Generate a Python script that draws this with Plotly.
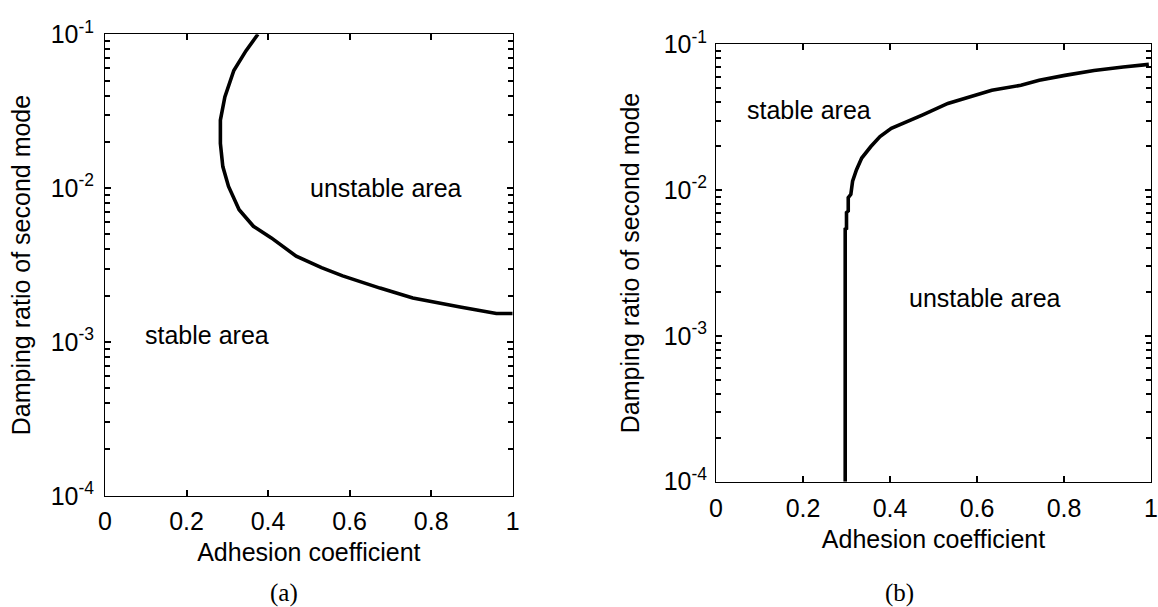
import plotly.graph_objects as go

# ---------------- data ----------------
# (a) stability boundary
a_adhesion = [0.375, 0.346, 0.316, 0.294, 0.283, 0.283, 0.289, 0.303, 0.329, 0.364,
              0.408, 0.469, 0.531, 0.583, 0.6745, 0.755, 0.871, 0.96, 1.0]
a_damping = [0.1, 0.0783, 0.0582, 0.0392, 0.0277, 0.0195, 0.0138, 0.01026, 0.00724, 0.00565,
             0.00475, 0.00361, 0.00304, 0.00269, 0.00224, 0.00193, 0.00169, 0.00153, 0.00153]

# (b) stability boundary
b_adhesion = [0.297, 0.297, 0.300, 0.300, 0.304, 0.304, 0.310, 0.314, 0.323, 0.335, 0.356,
              0.377, 0.403, 0.432, 0.474, 0.533, 0.583, 0.634, 0.701, 0.743, 0.802, 0.869,
              0.936, 0.995]
b_damping = [0.0001, 0.0054, 0.00546, 0.00702, 0.00719, 0.00887, 0.00935, 0.0115, 0.0138,
             0.0166, 0.0199, 0.0233, 0.0265, 0.0287, 0.0327, 0.0393, 0.0436, 0.0484, 0.0524,
             0.0566, 0.0612, 0.0662, 0.0698, 0.0728]

x_tickvals = [0, 0.2, 0.4, 0.6, 0.8, 1]
x_ticktext = ["0", "0.2", "0.4", "0.6", "0.8", "1"]
y_tickvals = [1e-4, 1e-3, 1e-2, 1e-1]
y_ticktext = ["10<sup>-4</sup>", "10<sup>-3</sup>", "10<sup>-2</sup>", "10<sup>-1</sup>"]
y_minor = [m * 10.0 ** e for e in (-4, -3, -2) for m in range(2, 10)]

x_title = "Adhesion coefficient"
y_title = "Damping ratio of second mode"

# ---------------- figure ----------------
W, H = 1158, 607
FONT = "Liberation Sans, Arial, sans-serif"
FS = 25

fig = go.Figure()
fig.add_trace(go.Scatter(x=a_adhesion, y=a_damping, mode="lines",
                         line=dict(color="black", width=3.6), xaxis="x", yaxis="y",
                         showlegend=False))
fig.add_trace(go.Scatter(x=b_adhesion, y=b_damping, mode="lines",
                         line=dict(color="black", width=3.6), xaxis="x2", yaxis="y2",
                         showlegend=False))

def px_x(p):
    return p / W

def px_y(p):
    return 1 - p / H

tfont = dict(family=FONT, size=FS, color="black")
common_x = dict(range=[0, 1], tickmode="array", tickvals=x_tickvals, ticktext=x_ticktext,
                ticks="inside", ticklen=6, tickwidth=1.5, tickcolor="black",
                showline=True, linecolor="black", linewidth=1, mirror="allticks",
                showgrid=False, zeroline=False, automargin=False,
                tickfont=tfont)
common_y = dict(type="log", range=[-4, -1], tickmode="array", tickvals=y_tickvals,
                ticktext=y_ticktext,
                ticks="inside", ticklen=6, tickwidth=1.5, tickcolor="black",
                minor=dict(tickmode="array", tickvals=y_minor, ticks="inside", ticklen=5,
                           tickwidth=1.5, tickcolor="black", showgrid=False),
                showline=True, linecolor="black", linewidth=1, mirror="allticks",
                showgrid=False, zeroline=False, automargin=False,
                tickfont=tfont)

fig.update_layout(
    width=W, height=H, margin=dict(l=0, r=0, t=0, b=0, autoexpand=False),
    paper_bgcolor="white", plot_bgcolor="white",
    xaxis=dict(common_x, domain=[px_x(105), px_x(512.7)], anchor="y", ticklabelstandoff=3,
               title=dict(text=x_title, font=tfont, standoff=9)),
    yaxis=dict(common_y, domain=[px_y(495.8), px_y(34.3)], anchor="x", ticklabelstandoff=5,
               title=dict(text=y_title, font=tfont, standoff=12)),
    xaxis2=dict(common_x, domain=[px_x(716), px_x(1151)], anchor="y2", ticklabelstandoff=4,
                title=dict(text=x_title, font=tfont, standoff=9)),
    yaxis2=dict(common_y, domain=[px_y(481.7), px_y(44.3)], anchor="x2", ticklabelstandoff=3,
                title=dict(text=y_title, font=tfont, standoff=16)),
)

serif = dict(family="Liberation Serif, Times New Roman, serif", size=FS, color="black")
annotations = [
    dict(text="unstable area", x=px_x(386), y=px_y(188), font=tfont),
    dict(text="stable area", x=px_x(207), y=px_y(335), font=tfont),
    dict(text="stable area", x=px_x(809), y=px_y(110), font=tfont),
    dict(text="unstable area", x=px_x(985), y=px_y(298), font=tfont),
    dict(text="(a)", x=px_x(284), y=px_y(593), font=serif),
    dict(text="(b)", x=px_x(899.5), y=px_y(593), font=serif),
]
for a in annotations:
    a.update(xref="paper", yref="paper", showarrow=False, xanchor="center", yanchor="middle")
fig.update_layout(annotations=annotations)

fig.write_html("out.html")
